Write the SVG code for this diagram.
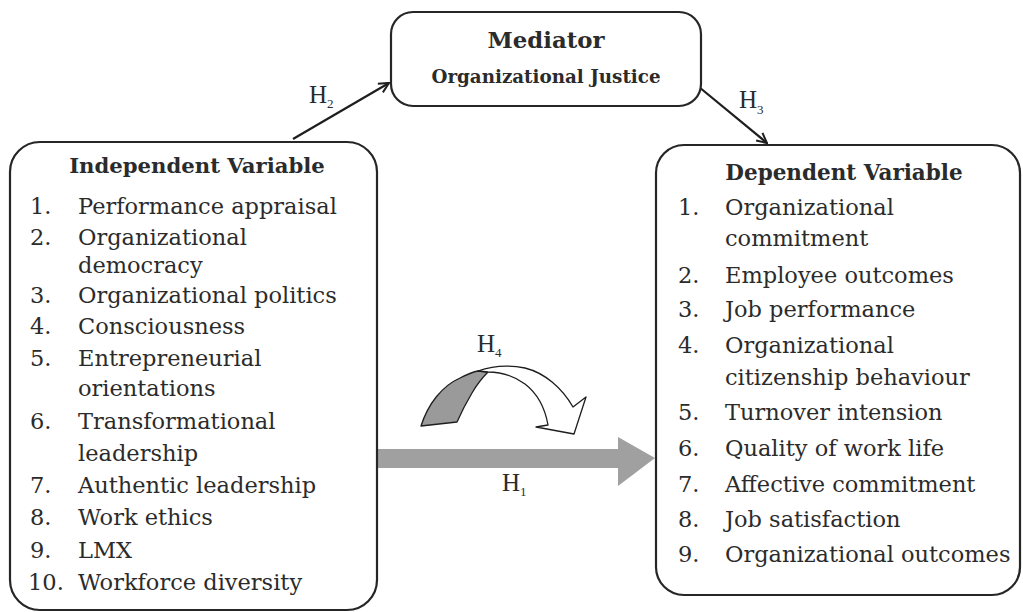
<svg xmlns="http://www.w3.org/2000/svg" width="1023" height="612" viewBox="0 0 1023 612">
  <style>
    .box { fill: #ffffff; stroke: #262626; stroke-width: 2.2; }
    .hd { font-family: "DejaVu Serif", "Liberation Serif", serif; font-weight: bold; fill: #2b2b2b; }
    .it { font-family: "DejaVu Serif", "Liberation Serif", serif; font-size: 22.5px; fill: #2b2b2b; }
    .lbl { font-family: "Liberation Serif", "DejaVu Serif", serif; font-size: 25px; fill: #2b2b2b; }
    .sub { font-size: 13px; }
    .conn { stroke: #1e1e1e; stroke-width: 2.2; fill: none; }
  </style>
  <defs>
    <marker id="vhead" viewBox="0 0 12 12" refX="11" refY="6" markerWidth="12" markerHeight="12" markerUnits="userSpaceOnUse" orient="auto">
      <path d="M1,1 L11,6 L1,11" fill="none" stroke="#1e1e1e" stroke-width="2"/>
    </marker>
  </defs>

  <rect width="1023" height="612" fill="#ffffff"/>

  <!-- connectors -->
  <g id="connectors">
    <!-- H2: independent -> mediator -->
    <line class="conn" x1="293" y1="139" x2="389" y2="83" marker-end="url(#vhead)"/>
    <text class="lbl" x="309" y="103">H<tspan class="sub" dy="5">2</tspan></text>
    <!-- H3: mediator -> dependent -->
    <line class="conn" x1="699" y1="87" x2="767" y2="143" marker-end="url(#vhead)"/>
    <text class="lbl" x="739" y="108">H<tspan class="sub" dy="6">3</tspan></text>
    <!-- H1: wide grey arrow -->
    <polygon points="376,449 618,449 618,437 655,458 618,486 618,468 376,468" fill="#a0a0a0"/>
    <text class="lbl" x="502" y="491">H<tspan class="sub" dy="5">1</tspan></text>
    <!-- H4: curved moderating arrow -->
    <path d="M421,426 C428,404 442,386 460,378 C466,375 472,372 478,371 L488,372 C481,379 476,386 472,393 C466,403 461,413 457,422 Z" fill="#9a9a9a" stroke="#1e1e1e" stroke-width="1.3" stroke-linejoin="round"/>
    <path d="M478,371 C492,366 510,365 525,368 C545,373 562,388 573,407 L586,397 L574,434 L536,427 L548,425 C545,408 538,394 525,384 C514,376 500,372 488,372 Z" fill="#ffffff" stroke="#1e1e1e" stroke-width="1.3" stroke-linejoin="round"/>
    <text class="lbl" x="477" y="352">H<tspan class="sub" dy="5">4</tspan></text>
  </g>

  <!-- mediator -->
  <g id="mediator">
    <rect class="box" x="391" y="12" width="310" height="94" rx="22"/>
    <text class="hd" x="546" y="48" text-anchor="middle" font-size="22.8">Mediator</text>
    <text class="hd" x="546" y="83" text-anchor="middle" font-size="18.3">Organizational Justice</text>
  </g>

  <!-- independent variable -->
  <g id="independent">
    <rect class="box" x="10" y="142" width="367" height="468" rx="30"/>
    <text class="hd" x="197" y="173" text-anchor="middle" font-size="21.2">Independent Variable</text>
    <g class="it">
      <text x="30" y="214">1.</text><text x="78" y="214">Performance appraisal</text>
      <text x="30" y="245">2.</text><text x="78" y="245">Organizational</text>
      <text x="78" y="273">democracy</text>
      <text x="30" y="303">3.</text><text x="78" y="303">Organizational politics</text>
      <text x="30" y="334">4.</text><text x="78" y="334">Consciousness</text>
      <text x="30" y="366">5.</text><text x="78" y="366">Entrepreneurial</text>
      <text x="78" y="396">orientations</text>
      <text x="30" y="429">6.</text><text x="78" y="429">Transformational</text>
      <text x="78" y="461">leadership</text>
      <text x="30" y="493">7.</text><text x="78" y="493">Authentic leadership</text>
      <text x="30" y="525">8.</text><text x="78" y="525">Work ethics</text>
      <text x="30" y="558">9.</text><text x="78" y="558">LMX</text>
      <text x="28" y="590">10.</text><text x="78" y="590">Workforce diversity</text>
    </g>
  </g>

  <!-- dependent variable -->
  <g id="dependent">
    <rect class="box" x="656" y="145" width="364" height="450" rx="28"/>
    <text class="hd" x="844" y="180" text-anchor="middle" font-size="21.5">Dependent Variable</text>
    <g class="it">
      <text x="678" y="215">1.</text><text x="725" y="215">Organizational</text>
      <text x="725" y="246">commitment</text>
      <text x="678" y="283">2.</text><text x="725" y="283">Employee outcomes</text>
      <text x="678" y="317">3.</text><text x="725" y="317">Job performance</text>
      <text x="678" y="353">4.</text><text x="725" y="353">Organizational</text>
      <text x="725" y="385">citizenship behaviour</text>
      <text x="678" y="420">5.</text><text x="725" y="420">Turnover intension</text>
      <text x="678" y="456">6.</text><text x="725" y="456">Quality of work life</text>
      <text x="678" y="492">7.</text><text x="725" y="492">Affective commitment</text>
      <text x="678" y="527">8.</text><text x="725" y="527">Job satisfaction</text>
      <text x="678" y="562">9.</text><text x="725" y="562">Organizational outcomes</text>
    </g>
  </g>
</svg>
